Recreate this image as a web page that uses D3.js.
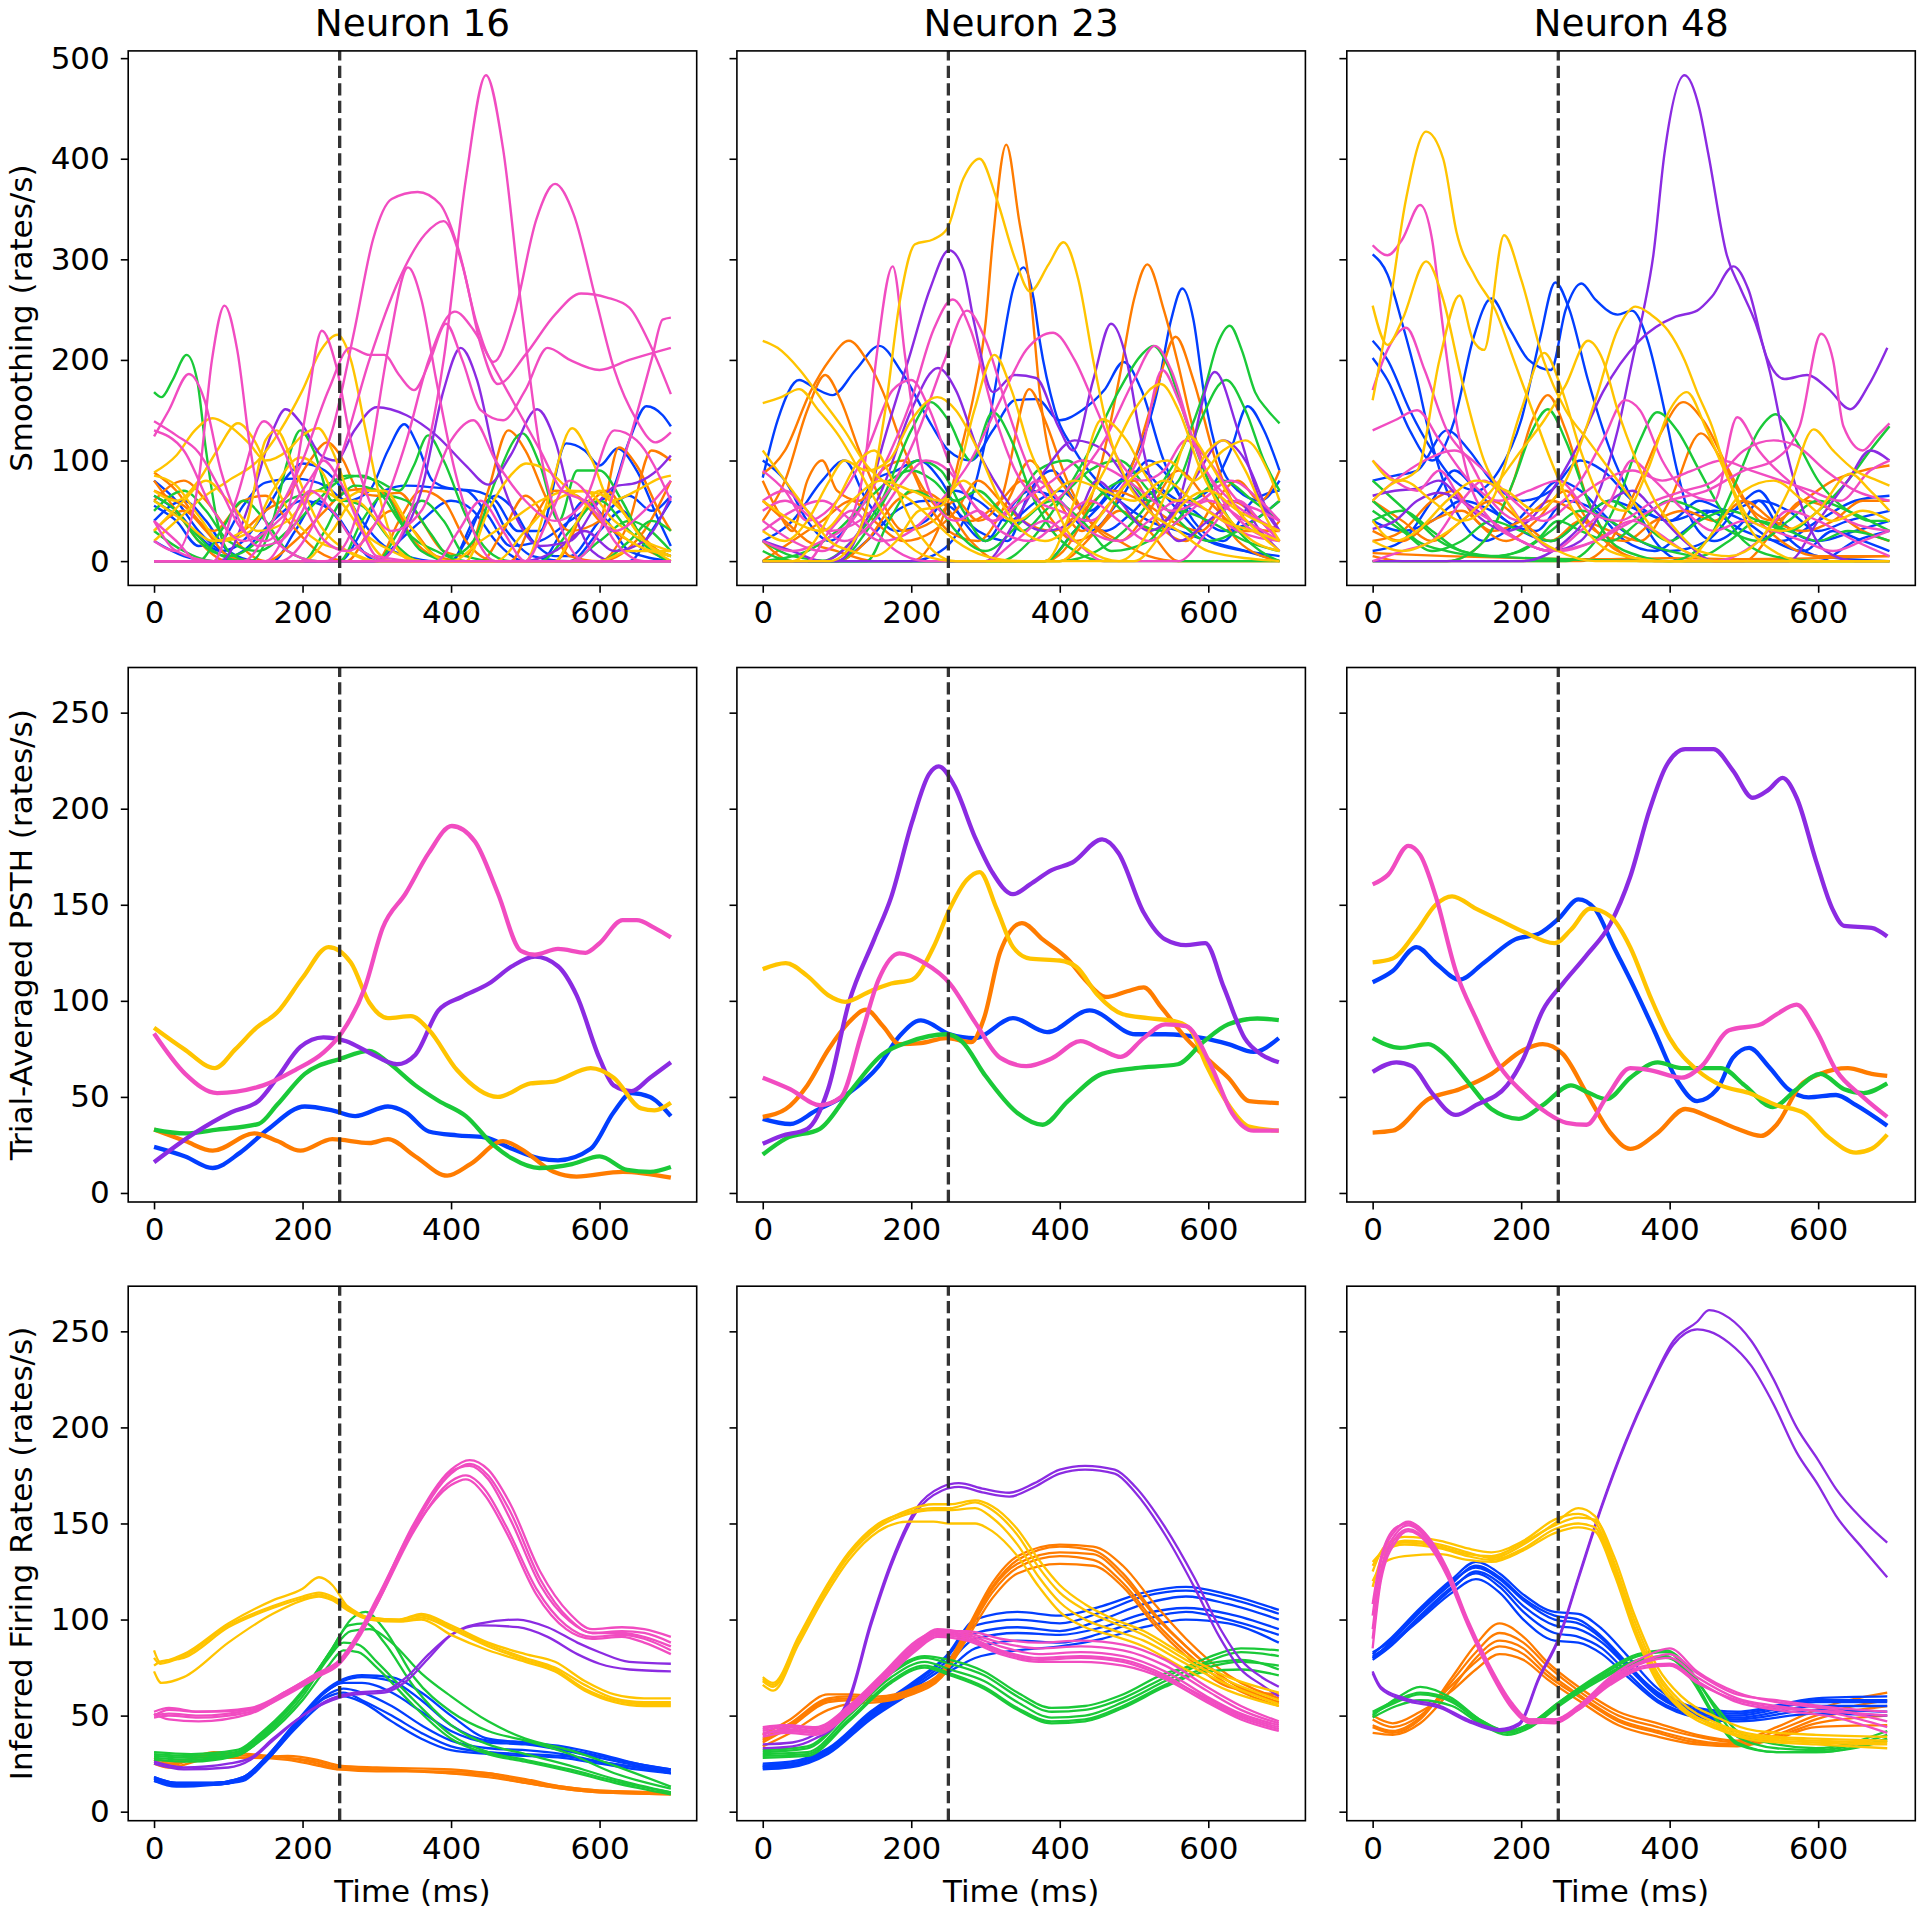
<!DOCTYPE html>
<html><head><meta charset="utf-8">
<script src="https://cdn.jsdelivr.net/npm/d3@7"></script>
<style>body{margin:0;background:#fff}svg{display:block}text{font-family:"DejaVu Sans",sans-serif}</style>
</head><body><svg id="c" width="1920" height="1913"></svg>
<script>
const neurons=["Neuron 16","Neuron 23","Neuron 48"];
const rowLabels=["Smoothing (rates/s)","Trial-Averaged PSTH (rates/s)","Inferred Firing Rates (rates/s)"];
const xLabel="Time (ms)";
const xTicks=[0,200,400,600];
const yTicksTop=[0,100,200,300,400,500];
const yTicksRate=[0,50,100,150,200,250];
const stimTime=250;
const conditions=["blue","orange","green","purple","pink","yellow"];
const palette=["#023eff","#ff7c00","#1ac938","#8b2be2","#f14cc1","#ffc400"];

// ---------- Row 1: single-trial smoothing (t, rate pairs) ----------
const smooth16=[
["blue",[0,65,30,50,60,25,90,10,120,20,150,50,180,85,200,97,230,90,255,70,280,40,310,15,340,5,380,0,696,0]],
["blue",[0,55,30,40,60,15,90,20,120,55,150,78,190,82,230,75,260,60,290,70,315,110,337,136,355,115,375,80,400,72,430,70,460,60,490,30,520,30,555,117,580,110,600,95,624,112,650,90,680,40,696,15]],
["blue",[0,0,250,0,280,30,310,70,340,75,380,73,420,70,450,45,480,15,520,20,560,40,600,60,614,66,640,120,663,154,685,145,696,134]],
["blue",[0,20,40,5,80,0,120,10,160,40,200,60,240,50,270,20,300,0,400,0,430,40,460,65,480,55,510,20,540,5,560,5,600,40,640,65,670,50,696,65]],
["blue",[0,40,40,60,70,40,100,10,140,0,400,0,420,20,450,60,475,30,510,5,560,0,600,30,630,50,660,20,696,5]],
["blue",[0,0,160,0,190,30,220,60,250,40,280,10,320,0,520,0,550,30,580,60,610,40,640,10,696,0]],
["blue",[0,80,30,60,60,30,90,10,130,0,300,0,330,20,360,40,400,60,430,50,460,20,500,0,640,0,670,30,696,60]],
["orange",[0,88,30,70,60,40,90,20,120,30,150,50,180,65,210,100,233,118,255,100,275,70,300,65,330,68,360,40,390,10,420,5,450,70,477,130,500,110,530,60,560,30,600,40,626,113,650,95,680,50,696,30]],
["orange",[0,80,30,50,60,20,100,0,150,0,190,20,230,50,260,70,290,72,320,60,350,20,400,0,480,0,510,40,540,70,570,65,600,40,640,20,696,0]],
["orange",[0,70,40,55,80,30,120,60,150,65,180,40,220,10,260,0,440,0,470,30,500,65,530,40,560,5,600,0,660,30,696,80]],
["orange",[0,30,40,50,70,30,100,5,140,0,260,0,290,30,320,50,350,30,380,5,420,0,540,0,580,50,610,70,640,40,680,10,696,5]],
["orange",[0,60,40,80,70,60,110,20,150,0,300,0,330,40,360,70,390,60,420,20,460,0,600,0,640,40,670,110,696,100]],
["green",[0,168,10,163,25,180,44,205,58,180,70,110,85,40,100,10,130,0,696,0]],
["green",[0,0,130,0,160,40,180,100,197,130,215,110,240,60,270,75,300,70,330,40,360,10,400,0,696,0]],
["green",[0,65,30,50,60,20,100,5,140,20,180,60,220,70,260,85,300,80,330,70,350,95,369,125,390,100,420,45,450,10,480,0,696,0]],
["green",[0,60,40,40,80,10,120,0,250,0,280,40,310,65,340,60,370,30,400,5,430,20,460,80,496,127,520,95,545,40,570,90,600,90,630,60,660,20,696,5]],
["green",[0,30,40,10,80,0,200,0,230,30,255,60,280,55,320,20,360,0,520,0,560,30,600,60,640,30,680,5,696,0]],
["green",[0,0,60,0,90,30,120,60,150,40,180,10,220,0,300,0,330,30,360,60,390,40,420,5,460,0,600,0,640,20,670,40,696,30]],
["green",[0,50,40,70,70,50,100,20,140,10,180,30,220,60,250,80,280,85,310,70,340,30,380,10,420,0,560,0,600,20,640,40,696,10]],
["purple",[0,0,90,0,130,60,160,130,177,151,200,135,225,105,245,100,270,130,300,153,340,145,380,125,420,95,450,76,480,105,516,151,540,120,565,50,590,10,620,0,696,0]],
["purple",[0,0,300,0,330,20,360,70,390,170,413,212,435,180,460,100,490,40,520,15,560,20,600,60,620,74,650,78,680,92,696,105]],
["purple",[0,0,500,0,540,10,580,30,620,10,660,20,696,64]],
["yellow",[0,20,30,40,60,60,100,80,140,100,170,130,200,170,225,210,247,225,265,200,285,130,305,60,325,15,350,0,696,0]],
["yellow",[0,88,30,105,55,130,79,142,100,135,128,117,150,100,180,110,200,125,221,132,240,110,265,60,290,20,320,0,420,0,450,50,480,85,501,97,530,90,560,70,600,45,640,20,696,5]],
["yellow",[0,70,30,60,60,80,85,110,113,137,135,120,160,80,190,40,220,20,260,10,300,0,500,0,530,60,563,132,590,100,615,60,650,70,680,82,696,85]],
["yellow",[0,85,30,75,60,45,90,20,130,30,160,70,197,103,225,90,250,60,280,70,310,70,340,40,370,10,400,0,440,20,480,40,520,60,560,70,594,68,630,50,660,20,696,5]],
["yellow",[0,60,40,40,80,20,120,30,150,120,165,130,190,90,220,40,260,10,300,0,600,0,640,10,696,10]],
["yellow",[0,0,200,0,240,30,270,60,300,40,330,10,360,0,540,0,570,40,600,70,630,50,660,20,696,0]],
["yellow",[0,30,40,60,70,80,100,60,140,30,180,40,220,70,250,60,280,30,320,10,360,0,460,0,500,30,540,60,580,70,620,40,660,20,696,10]],
["pink",[0,0,300,0,350,60,390,200,420,380,447,483,470,410,495,250,520,110,550,30,580,0,696,0]],
["pink",[0,130,40,110,80,50,120,20,160,35,200,70,240,130,270,230,295,320,320,360,355,367,385,355,410,310,435,235,457,198,485,245,515,340,540,375,565,345,595,260,620,190,650,140,675,118,696,128]],
["pink",[0,0,170,0,210,30,250,100,290,200,330,280,365,325,390,338,415,295,440,215,463,176,500,205,540,245,575,266,610,262,640,252,665,220,696,166]],
["pink",[0,0,230,0,260,20,290,100,315,210,342,292,360,260,380,180,405,90,430,30,460,0,560,0,600,30,640,120,670,200,685,240,696,242]],
["pink",[0,20,30,10,60,80,78,200,95,254,112,210,130,110,150,40,180,10,220,0,380,0,410,30,440,60,470,30,500,0,696,0]],
["pink",[0,124,20,150,47,186,68,160,90,90,115,40,140,15,170,20,200,50,228,100,250,80,280,30,300,5,360,0,696,0]],
["pink",[0,139,30,125,60,108,90,70,120,30,150,20,180,50,205,150,226,229,245,195,265,120,290,60,320,30,360,50,400,120,430,140,460,100,500,60,540,40,580,60,620,130,650,120,696,60]],
["pink",[0,40,30,20,60,0,120,0,160,40,200,100,235,170,264,212,290,205,310,205,330,185,350,170,372,200,393,236,415,200,440,150,470,140,500,170,530,212,560,200,600,190,640,200,696,212]],
["pink",[0,0,80,0,110,60,148,139,175,110,200,60,230,20,260,10,300,40,340,120,370,200,405,248,430,230,460,190,490,150,520,110,550,70,580,60,620,30,660,50,696,80]],
["pink",[0,40,30,10,80,0,150,0,180,30,210,70,240,50,280,10,320,0,500,0,530,40,560,80,590,60,620,20,660,0,696,0]]
];
const smooth23=[
["blue",[0,0,200,0,240,10,280,60,300,120,320,202,337,270,351,292,365,260,373,219,393,151,420,110,450,80,480,60,520,40,560,30,600,20,650,10,696,0]],
["blue",[0,83,20,140,49,180,70,172,94,165,125,190,157,214,187,188,226,137,250,110,280,100,310,130,340,160,369,161,400,140,430,150,460,170,486,198,510,170,540,100,570,60,600,70,630,110,653,154,675,130,696,90]],
["blue",[0,0,380,0,420,30,460,60,500,100,531,168,550,240,565,271,580,240,594,168,615,100,640,70,670,60,696,80]],
["blue",[0,100,30,80,60,40,90,20,120,40,150,80,180,90,210,100,240,80,270,40,300,20,330,50,360,70,400,60,440,30,480,60,520,100,550,80,580,40,620,20,660,60,696,70]],
["blue",[0,0,100,0,140,20,180,50,220,60,250,55,290,30,330,20,360,70,390,90,420,60,460,30,500,50,530,70,560,50,600,20,650,10,696,5]],
["blue",[0,20,40,40,80,80,110,100,140,60,180,30,220,40,260,70,290,60,330,40,370,60,400,70,440,50,480,80,510,90,540,70,580,50,620,30,660,40,696,60]],
["orange",[0,0,200,0,250,60,270,120,285,168,300,236,310,320,328,414,345,340,360,270,373,168,388,100,410,70,440,40,480,20,520,5,560,0,696,0]],
["orange",[0,60,30,40,60,20,100,10,150,0,380,0,430,40,457,100,481,185,500,260,518,295,540,250,558,200,580,130,610,60,640,20,696,0]],
["orange",[0,87,30,110,64,168,90,200,116,219,140,200,162,168,187,117,210,80,240,50,280,40,320,60,350,80,380,50,420,20,460,40,500,100,530,170,556,223,580,180,610,100,640,50,680,30,696,40]],
["orange",[0,40,30,80,60,150,84,185,105,160,130,110,160,60,190,30,230,40,260,60,290,40,320,60,359,171,380,140,410,80,440,40,480,20,520,50,560,90,600,60,650,30,696,30]],
["orange",[0,80,20,50,40,30,60,80,80,100,100,70,130,60,160,90,190,100,220,60,250,30,290,20,330,60,360,100,390,70,430,30,470,60,500,80,530,40,570,20,610,60,640,80,670,60,696,90]],
["orange",[0,20,40,0,100,0,140,20,180,60,210,70,240,60,280,20,320,0,400,0,450,30,480,50,520,30,560,0,696,0]],
["orange",[0,0,40,20,80,40,120,60,150,40,190,20,230,30,260,50,290,80,320,60,350,40,390,30,430,50,470,70,510,60,550,40,590,30,630,60,670,40,696,20]],
["green",[0,0,400,0,450,10,500,40,540,80,570,120,594,168,612,215,629,234,645,210,663,168,680,150,696,137]],
["green",[0,0,320,0,360,20,400,60,440,110,480,170,510,205,526,214,545,195,570,140,600,80,630,40,670,10,696,0]],
["green",[0,20,40,5,100,0,380,0,420,30,460,70,490,80,520,60,560,80,590,140,624,180,650,150,675,100,696,70]],
["green",[0,0,80,0,120,20,160,60,200,130,226,158,250,140,280,100,310,148,335,120,360,70,390,30,420,10,460,0,696,0]],
["green",[0,10,40,0,100,0,140,30,180,80,210,100,240,90,270,50,300,20,330,40,370,90,410,100,440,80,470,60,500,40,540,30,580,60,620,80,660,60,696,40]],
["green",[0,0,140,0,170,40,200,70,230,60,260,30,300,10,350,40,390,60,430,40,470,10,520,20,560,50,600,40,650,20,696,10]],
["green",[0,0,60,10,100,30,140,60,170,80,200,90,230,80,260,60,290,70,320,50,350,30,380,50,410,70,440,90,480,100,520,70,560,40,600,20,640,30,680,50,696,60]],
["purple",[0,0,100,0,130,30,162,117,197,202,225,270,251,309,270,290,285,236,310,168,339,185,368,182,398,134,418,110,445,180,469,236,490,200,506,134,530,60,560,20,600,40,640,60,670,30,696,10]],
["purple",[0,20,40,10,80,0,120,20,160,70,200,150,236,192,260,170,290,110,320,70,350,40,380,30,420,40,450,80,480,60,520,30,560,60,609,188,640,130,670,60,696,30]],
["purple",[0,0,300,0,340,40,380,90,420,120,460,110,500,70,540,40,580,80,620,120,650,100,680,50,696,30]],
["pink",[0,40,40,20,80,10,110,30,138,100,153,202,175,293,192,202,210,110,230,60,260,40,290,50,320,30,360,20,400,40,440,60,480,40,520,20,560,40,600,60,650,40,696,20]],
["pink",[0,20,40,10,80,20,120,40,160,90,200,160,230,230,256,260,280,230,310,150,340,90,370,60,400,50,440,40,480,70,510,110,538,190,560,160,590,100,630,60,670,40,696,30]],
["pink",[0,60,30,70,60,50,90,30,130,40,170,70,210,130,245,200,275,249,300,220,330,150,360,90,390,60,420,80,460,120,500,180,528,214,550,190,580,120,620,60,660,30,696,20]],
["pink",[0,30,40,50,80,60,120,40,160,20,200,30,240,60,280,100,320,160,355,210,391,227,420,200,450,150,480,100,510,80,540,90,570,120,600,100,640,60,670,50,696,40]],
["pink",[0,90,30,70,60,40,100,60,140,110,175,170,200,180,225,150,250,100,280,60,310,40,340,60,370,80,400,60,440,30,480,20,520,40,560,60,600,50,640,30,696,20]],
["pink",[0,0,60,0,90,30,120,50,150,30,180,10,220,0,300,0,340,20,380,40,420,20,460,0,560,0,600,30,640,60,670,40,696,20]],
["pink",[0,50,30,60,70,40,110,20,150,40,190,80,220,100,250,90,280,60,310,40,350,60,390,80,430,100,470,90,510,70,550,50,590,60,630,80,670,60,696,40]],
["yellow",[0,0,90,0,130,30,165,150,185,260,205,315,230,320,248,330,270,380,292,400,315,360,340,300,360,268,385,295,405,317,425,280,445,200,465,130,490,80,520,50,560,30,600,10,696,0]],
["yellow",[0,219,20,212,50,190,80,160,110,130,140,95,170,75,200,60,230,40,260,20,300,5,350,0,500,0,540,30,570,60,600,70,640,50,696,30]],
["yellow",[0,157,25,163,49,171,75,150,103,124,130,90,160,50,190,20,220,5,260,0,380,0,420,60,457,141,490,120,520,80,560,60,600,110,620,120,650,90,680,40,696,20]],
["yellow",[0,110,30,80,60,50,90,20,120,10,150,5,180,20,210,50,240,55,260,80,285,150,312,205,335,170,360,110,385,70,410,30,440,10,480,0,520,30,550,80,575,124,600,100,640,50,680,20,696,10]],
["yellow",[0,30,30,20,60,40,90,80,110,100,140,90,170,100,200,140,235,163,260,150,290,110,320,60,350,30,380,20,420,40,460,90,500,150,536,176,560,150,590,90,620,50,660,20,696,10]],
["yellow",[0,0,40,0,70,20,100,60,130,100,150,110,175,80,200,40,230,10,260,0,400,0,430,20,470,60,510,90,545,100,580,80,620,110,650,120,680,90,696,60]],
["yellow",[0,60,40,40,80,30,120,60,160,80,200,70,240,60,270,80,300,60,340,40,380,60,420,80,460,70,500,60,540,80,580,60,620,40,660,30,696,20]]
];
const smooth48=[
["blue",[0,305,20,285,40,236,60,180,74,134,95,80,120,40,150,20,180,30,220,60,250,80,280,70,320,40,360,20,400,10,450,20,500,60,520,70,550,40,600,20,650,30,696,40]],
["blue",[0,219,20,200,50,150,80,110,110,80,140,70,170,90,200,140,225,220,246,277,265,250,290,180,320,110,350,60,380,20,420,0,600,0,650,20,696,30]],
["blue",[0,202,20,180,50,130,80,100,110,140,135,220,160,261,185,230,210,200,240,190,260,250,281,276,300,260,330,245,349,249,370,220,390,160,410,90,430,40,460,20,500,40,520,60,550,30,600,5,696,0]],
["blue",[0,80,30,85,60,90,100,130,130,110,160,80,200,60,240,70,280,100,310,90,350,60,400,40,450,50,500,30,550,20,600,40,650,60,696,65]],
["blue",[0,10,40,20,80,60,110,90,140,70,180,40,220,30,260,60,300,50,340,20,380,10,420,30,460,50,500,40,540,20,580,10,620,30,660,20,696,10]],
["blue",[0,40,40,30,80,40,120,60,160,50,200,30,240,20,280,40,320,60,360,50,400,40,440,60,480,50,520,60,560,50,600,30,640,40,696,50]],
["orange",[0,5,40,0,100,0,150,20,190,80,215,140,236,165,260,130,290,60,320,20,360,0,400,0,696,0]],
["orange",[0,0,280,0,320,20,360,80,390,130,418,158,445,140,480,90,510,50,550,20,600,5,696,5]],
["orange",[0,60,40,40,80,20,120,40,160,60,200,40,240,20,280,40,320,30,360,20,400,60,442,127,470,100,500,60,540,40,580,60,620,80,660,90,696,95]],
["orange",[0,20,40,30,80,60,110,70,140,40,180,20,220,40,260,70,290,40,330,10,380,0,500,0,540,30,580,60,620,50,660,30,696,20]],
["orange",[0,8,100,5,200,3,300,2,400,3,500,2,600,3,696,5]],
["orange",[0,30,40,20,80,40,120,50,160,30,200,40,240,60,270,50,300,30,340,20,380,40,420,50,460,40,500,60,540,40,580,30,620,40,660,60,696,60]],
["green",[0,0,100,0,150,20,190,80,215,130,236,151,260,120,290,60,320,20,360,5,400,0,696,0]],
["green",[0,0,260,0,300,20,330,60,360,120,383,148,410,130,440,90,470,50,500,20,540,5,600,0,696,0]],
["green",[0,60,30,40,60,20,100,10,150,5,400,0,450,20,490,80,520,130,543,146,570,120,600,80,640,50,670,40,696,40]],
["green",[0,50,40,30,80,10,120,20,160,40,200,30,240,20,280,40,320,60,360,40,400,20,440,40,480,50,520,40,560,30,600,50,640,80,670,110,696,134]],
["green",[0,80,30,60,60,40,90,20,120,10,160,5,200,10,240,30,280,50,320,40,360,20,400,10,440,5,480,20,520,40,560,30,600,20,640,30,696,20]],
["green",[0,40,40,50,80,30,120,10,170,5,220,20,250,40,280,30,320,20,360,40,400,60,440,50,480,30,520,20,560,40,600,60,640,50,696,30]],
["purple",[0,0,200,0,260,20,300,60,330,130,350,200,365,250,378,304,393,405,420,483,440,450,452,405,477,304,496,270,516,236,535,188,555,117,580,50,610,10,650,0,696,0]],
["purple",[0,65,30,70,60,72,89,80,120,60,150,40,180,30,210,40,250,80,280,120,310,168,359,219,408,243,437,249,457,263,486,293,506,270,531,202,555,181,585,185,614,171,643,151,668,175,693,212]],
["purple",[0,32,30,40,60,60,90,68,120,60,160,40,200,20,240,10,280,20,320,60,350,70,380,50,420,20,460,0,560,0,600,40,640,80,670,110,696,100]],
["pink",[0,314,20,304,40,320,64,354,80,320,94,236,110,150,130,80,160,40,200,20,240,10,280,30,320,60,349,100,380,80,420,50,460,30,500,40,540,30,580,20,620,10,660,20,696,30]],
["pink",[0,170,20,210,45,232,70,190,100,130,130,100,160,60,200,40,240,50,280,80,310,120,340,160,360,150,390,100,420,70,460,60,491,143,520,110,560,80,600,60,640,40,696,30]],
["pink",[0,100,30,80,60,70,90,90,120,60,160,40,200,20,240,10,300,20,350,40,400,60,450,70,500,90,540,100,575,134,604,226,620,200,634,134,660,110,680,125,696,137]],
["pink",[0,130,30,140,60,150,90,120,130,80,170,60,210,70,250,80,290,50,330,40,380,60,420,70,460,80,500,110,540,120,570,115,610,90,650,70,696,60]],
["pink",[0,0,40,10,80,20,120,60,150,80,180,60,210,30,250,10,300,20,350,40,380,30,420,10,460,0,520,20,560,50,600,40,650,20,696,5]],
["pink",[0,60,30,80,70,100,110,110,150,90,190,60,230,40,270,60,310,80,350,90,390,80,430,90,470,100,510,90,550,80,590,70,630,60,670,90,696,100]],
["yellow",[0,160,20,240,45,360,72,427,95,400,113,327,138,283,165,250,190,200,215,150,240,100,270,50,300,20,340,5,400,0,696,0]],
["yellow",[0,254,20,215,40,240,72,298,95,260,120,180,150,100,180,60,210,30,250,10,300,0,420,0,460,30,500,70,540,80,580,60,620,40,660,50,696,40]],
["yellow",[0,100,30,80,60,90,90,200,117,264,135,220,150,210,177,324,200,280,230,200,260,150,290,120,320,90,350,60,380,30,420,10,460,0,696,0]],
["yellow",[0,40,30,20,60,30,100,60,140,80,180,70,220,50,260,80,300,160,330,230,354,253,375,245,398,229,420,200,437,168,457,134,480,80,510,30,540,10,580,0,696,0]],
["yellow",[0,20,40,10,80,20,120,40,160,70,200,110,231,140,260,175,290,219,310,200,330,150,355,100,380,60,410,30,440,10,480,5,520,20,560,70,594,131,620,110,650,90,680,80,696,75]],
["yellow",[0,60,40,80,80,60,120,40,160,60,200,150,231,207,255,170,280,110,310,60,340,50,370,90,400,150,423,168,450,130,480,80,510,40,550,30,600,50,643,87,670,70,696,50]]
];

// ---------- Row 2: trial-averaged PSTH ----------
const psth16=[
["blue",[0,24,42,19,79,13,116,21,153,33,203,45,240,43,271,40,315,45,339,42,370,32,408,30,445,29,482,23,519,18,544,17,588,23,619,42,643,52,668,50,696,40]],
["orange",[0,33,42,27,79,22,135,31,166,27,197,22,240,28,290,26,315,28,352,19,395,9,426,15,470,27,494,23,538,11,569,8.5,631,11,696,8]],
["green",[0,33,42,31,85,33,141,36,166,46,203,62,252,70,290,74,315,68,352,56,383,48,420,40,457,25,482,18,519,13,563,15,600,19,637,12,668,11,696,13.5]],
["purple",[0,16,54,31,104,42,141,48,166,60,197,76,228,81,259,79,290,73,327,67,352,72,383,95,414,102,451,109,482,118,513,123,544,118,569,103,600,70,619,56,643,53,668,60,696,68]],
["yellow",[0,86,40,75,82,65,110,75,138,86,166,94,200,112,235,128,265,120,290,99,315,91,346,92,370,85,408,64,463,50,507,57,538,58,588,65,619,60,656,44,674,43,696,47]],
["pink",[0,83,42,62,85,52,147,56,190,64,228,73,252,83,284,107,308,138,339,156,370,177,401,191,432,183,463,156,494,126,513,124,544,127,581,125,600,130,631,142,650,142,674,138,696,133]]
];
const psth23=[
["blue",[0,38.6,37,35.9,71,42.7,116,52,156,66,184,81.6,213,89.8,252,82.6,286,80.6,337,91,383,83.7,440,95,502,82.6,542,82.6,593,80.6,627,77.5,661,73.4,695,80.6]],
["orange",[0,39.6,31,43.7,60,56,88,74.4,116,88.8,139,95.4,162,86.8,184,77.5,213,78,247,80.6,281,78.5,298,91,320,125.7,349,140.5,377,132,411,121.6,434,111,462,102,491,105,513,107,536,97,570,80.6,604,68,627,60,655,47.8,695,46.8]],
["green",[0,20,31,28.3,77,33.4,116,52,162,72.4,196,78.5,247,82.6,269,78.5,298,62,343,41.6,377,35.5,411,47.8,457,62,502,65,559,67,593,78.5,627,87.8,666,90.8,695,90]],
["purple",[0,25.6,25,29.7,60,33.4,88,54,116,99,150,132,173,154,201,193,224,218,237,222,258,212,286,185,309,167,337,155.5,360,160.6,389,168,417,172,457,184,479,177,513,146,542,132,570,129,596,130,621,107,649,80.6,672,72,695,68]],
["yellow",[0,116.5,31,119.6,60,113,88,103,111,99.5,145,105,173,109,201,111,230,128,252,148,275,163,292,167,315,148,337,128,360,122,400,121,423,117.5,451,103,485,93,519,91,559,89,576,85,598,66,627,46,655,34.5,695,32.4]],
["pink",[0,60,37,54,77,45.7,105,49.8,133,82.6,156,111,184,124.7,218,119.6,252,109,286,88.8,320,70.3,355,66,389,70,428,79,457,74.4,482,70.8,513,80.6,542,87.8,570,86.8,604,66,632,41.6,661,32.4,695,32.4]]
];
const psth48=[
["blue",[0,109.7,27,115.5,59,128,85,119.6,117,111,149,119.6,192,132,224,135,251,143,277,152.8,299,148,325,127.8,352,107,379,84.7,411,58,437,47.8,464,54,485,70.3,507,75.5,533,66,560,54,587,49.8,624,51,651,45.7,693,35]],
["orange",[0,31.4,27,32.4,75,48.8,117,54,160,62,203,74.4,229,77.5,256,72.4,288,52,320,31.4,347,23,384,31.4,421,43.7,459,38.6,491,33.4,523,29.7,544,35.5,576,56,603,62,640,65,672,62,693,61]],
["green",[0,80.6,37,75.5,75,77.5,96,72.4,128,58,160,43.7,197,38.6,229,45.7,267,56,288,52.7,315,48.8,347,60,384,68,416,65,469,65,501,56,539,44.7,571,54,603,62,635,54,661,52,693,57]],
["purple",[0,63,32,68,53,66,80,52,112,40.6,139,45.7,181,56,203,70,229,95,256,109,288,123.7,320,140,347,164.7,373,199.5,395,222,421,231,459,231,485,220,512,205.7,533,209.8,552,216,571,205.7,597,173,619,148,635,139,672,138,693,133.5]],
["yellow",[0,120,27,122,59,136,85,150,107,154.4,139,148,171,142,203,136,245,130,267,137,293,148,320,144,347,127.8,373,103,400,80.6,437,64,469,56,507,52,544,45.7,581,41.6,613,29.3,651,21,672,23,693,30.4]],
["pink",[0,160.6,21,165.7,48,180.7,64,176,85,154.4,112,115.5,139,91,171,66,203,52,235,41.6,261,36.5,288,35.5,315,49.8,347,65,373,64,416,60,443,66,480,84.7,523,87.8,544,93,571,98,597,84.7,624,64,661,49.8,693,39.6]]
];

// ---------- Row 3: inferred firing rates (several trials per condition) ----------
const rates16=[
["orange",[0,27,20,24,80,31,130,30,180,28,220,26,250,23,300,22,400,20,450,19,500,15,550,12,600,10,696,9]],
["orange",[0,26,20,25,80,30,130,29,180,28,220,25,250,22,300,21,400,21,450,20,500,16,550,13,600,11,696,10]],
["orange",[0,28,20,26,80,29,130,28,180,29,220,27,250,24,300,23,400,22,450,20,500,17,550,13,600,11,696,10]],
["orange",[0,25,20,23,80,28,130,28,180,27,220,24,250,22,300,22,400,20,450,18,500,15,550,12,600,10,696,9]],
["blue",[0,18,30,15,80,15,120,18,150,28,190,46,230,62,255,68,280,70,320,68,360,58,400,45,450,37,500,36,550,33,600,29,650,25,696,22]],
["blue",[0,17,30,14,80,14,120,17,150,27,190,45,230,62,255,67,280,67,320,62,360,52,400,42,450,36,500,35,550,32,600,28,650,24,696,21]],
["blue",[0,16,30,14,80,14,120,17,150,26,190,44,230,60,255,64,280,62,320,55,360,45,400,37,450,33,500,32,550,30,600,26,650,23,696,20]],
["blue",[0,17,30,15,80,15,120,17,150,27,190,45,230,59,255,62,280,58,320,50,360,41,400,34,450,31,500,30,550,29,600,26,650,23,696,20]],
["blue",[0,18,30,15,80,15,120,18,150,28,190,46,230,63,255,69,280,71,320,70,360,62,400,50,450,38,500,36,550,34,600,30,650,25,696,22]],
["blue",[0,16,30,13,80,14,120,16,150,26,190,43,230,57,255,60,280,57,320,47,360,38,400,32,450,30,500,29,550,28,600,25,650,22,696,20]],
["green",[0,30,50,29,110,31,150,42,200,62,240,85,265,100,285,104,310,95,350,70,400,52,450,42,500,37,560,30,620,20,696,12]],
["green",[0,29,50,28,110,30,150,41,200,62,240,85,262,97,285,98,310,88,350,65,400,45,450,35,500,30,560,24,620,17,696,10]],
["green",[0,28,50,27,110,29,150,40,200,60,235,80,255,88,275,87,300,78,350,58,400,40,450,31,500,27,560,22,620,16,696,10]],
["green",[0,27,50,26,110,29,150,39,200,58,235,76,255,84,275,83,300,75,350,55,400,38,450,30,500,26,560,21,620,15,696,9]],
["green",[0,31,50,30,110,32,150,43,200,63,240,84,265,94,290,95,320,88,360,72,400,60,450,47,500,38,560,32,620,24,696,13]],
["purple",[0,26,40,23,100,25,130,28,160,38,200,50,240,58,270,61,310,62,340,68,370,80,400,92,440,98,490,100,530,96,570,88,600,83,640,78,696,77]],
["purple",[0,25,40,22,100,23,130,27,160,37,200,50,240,59,270,62,310,63,340,70,370,82,400,92,440,97,490,96,530,91,570,82,600,77,640,74,696,73]],
["yellow",[0,84,8,78,40,82,100,98,160,110,200,116,222,122,240,118,260,107,290,101,330,100,360,103,400,97,450,88,500,82,540,78,580,68,620,61,660,59,696,59]],
["yellow",[0,80,8,77,40,81,100,97,160,107,200,112,222,114,240,112,260,107,290,101,330,100,360,102,400,96,450,87,500,80,540,75,580,66,620,59,660,57,696,57]],
["yellow",[0,76,8,78,40,80,100,96,160,106,200,111,222,113,240,111,260,106,290,100,330,99,360,101,400,95,450,86,500,79,540,74,580,64,620,58,660,56,696,56]],
["yellow",[0,73,10,67,40,70,100,88,160,103,200,110,222,112,240,110,260,105,290,100,330,99,360,100,400,92,450,84,500,78,540,73,580,63,620,57,660,55,696,55]],
["pink",[0,50,20,53,60,52,130,54,180,63,220,72,250,78,275,92,300,110,350,150,400,178,425,183,450,178,480,160,520,125,560,103,590,95,630,96,660,95,696,91]],
["pink",[0,52,20,54,60,52,130,53,180,62,220,71,250,77,275,90,300,108,350,148,400,176,425,181,450,175,480,156,520,121,560,100,590,93,630,94,660,93,696,88]],
["pink",[0,49,20,50,60,49,130,52,180,61,220,70,250,77,275,91,300,108,350,146,400,172,420,175,445,168,475,148,515,116,555,97,590,91,630,92,660,90,696,84]],
["pink",[0,51,20,48,60,47,130,51,180,62,220,71,250,78,275,92,300,110,350,147,400,170,420,173,445,165,475,145,515,113,555,95,590,90,630,91,660,88,696,82]],
["pink",[0,50,20,51,60,50,130,53,180,63,220,72,250,79,275,93,300,111,350,149,400,177,425,180,450,173,480,152,520,118,560,99,590,93,630,93,660,91,696,86]]
];
const rates23=[
["blue",[0,25,37,26,88,33,145,52,201,67,247,81,286,100,343,104,400,102,457,107,513,114,570,117,627,113,695,105]],
["blue",[0,24,37,25,88,32,145,51,201,66,247,80,286,97,343,100,400,98,457,104,513,112,570,115,627,111,695,103]],
["blue",[0,23,37,24,88,31,145,50,201,65,247,78,286,93,343,96,400,94,457,100,513,108,570,112,627,108,695,100]],
["blue",[0,24,37,25,88,32,145,50,201,64,247,76,286,90,343,93,400,92,457,96,513,103,570,106,627,103,695,95]],
["blue",[0,22,37,23,88,30,145,48,201,62,247,73,286,85,343,89,400,88,457,93,513,100,570,104,627,100,695,92]],
["blue",[0,23,37,24,88,31,145,49,201,63,247,72,286,80,343,84,400,86,457,90,513,96,570,100,627,98,695,88]],
["orange",[0,38,37,46,88,59,116,60,156,59,201,63,241,72,275,94,309,117,343,131,400,138,445,136,485,124,530,102,570,86,627,68,695,57]],
["orange",[0,36,37,44,88,57,116,58,156,58,201,62,241,71,275,92,309,114,343,127,400,133,445,131,485,119,530,98,570,83,627,66,695,55]],
["orange",[0,40,37,48,88,61,116,61,156,60,201,64,241,73,275,95,309,119,343,133,400,139,445,138,485,128,530,107,570,90,627,71,695,59]],
["orange",[0,34,37,41,88,53,116,56,156,57,201,61,241,70,275,90,309,111,343,124,400,129,445,128,485,117,530,96,570,81,627,65,695,61]],
["orange",[0,37,37,45,88,58,116,59,156,58,201,62,241,72,275,93,309,116,343,129,400,135,445,134,485,122,530,101,570,86,627,68,695,57]],
["green",[0,30,60,31,116,50,173,70,218,78,252,74,298,68,343,57,389,49,434,50,485,57,542,68,598,78,644,83,695,81]],
["green",[0,31,60,33,116,52,173,72,218,80,252,77,298,71,343,60,389,52,434,53,485,59,542,70,598,80,644,85,695,84]],
["green",[0,29,60,30,116,48,173,68,218,76,252,72,298,65,343,54,389,47,434,48,485,55,542,66,598,75,644,78,695,76]],
["green",[0,32,60,34,116,53,173,73,218,81,252,79,298,73,343,62,389,54,434,55,485,61,542,72,598,77,644,79,695,74]],
["green",[0,28,60,29,116,47,173,67,218,75,252,71,298,64,343,53,389,46,434,47,485,54,542,65,598,73,644,74,695,71]],
["purple",[0,35,40,36,70,40,100,48,116,59,145,98,173,130,207,158,241,169,264,171,298,168,332,166,366,171,400,178,434,180,474,178,502,169,542,148,581,122,615,96,644,79,672,70,695,65]],
["purple",[0,33,40,34,70,38,100,46,116,57,145,96,173,128,207,156,241,167,264,169,298,166,332,164,366,169,400,176,434,178,474,176,502,166,542,144,581,117,615,91,644,74,672,66,695,60]],
["yellow",[0,70,14,67,48,91,82,115,116,135,156,150,196,156,230,158,252,158,286,161,309,157,343,144,372,127,400,114,434,105,468,99,513,92,570,79,627,68,695,58]],
["yellow",[0,68,14,65,48,89,82,113,116,133,156,148,196,155,230,157,252,157,286,158,309,153,343,139,372,122,400,109,434,100,468,95,513,89,570,77,627,66,695,56]],
["yellow",[0,69,14,66,48,90,82,114,116,134,156,149,196,157,230,160,252,160,286,162,309,159,343,147,372,131,400,118,434,108,468,101,513,94,570,81,627,70,695,62]],
["yellow",[0,66,14,63,48,87,82,111,116,131,156,146,196,151,230,151,252,150,286,150,309,146,343,133,372,117,400,104,434,96,468,92,513,86,570,74,627,63,695,55]],
["pink",[0,42,31,44,71,42,116,53,162,70,207,87,235,94,275,92,320,86,372,82,428,83,485,81,542,73,598,60,644,51,695,45]],
["pink",[0,40,31,43,71,41,116,52,162,69,207,86,235,93,275,91,320,84,372,80,428,81,485,79,542,71,598,58,644,49,695,43]],
["pink",[0,44,31,45,71,43,116,54,162,71,207,88,235,95,275,93,320,88,372,85,428,86,485,84,542,76,598,63,644,53,695,46]],
["pink",[0,39,31,41,71,40,116,51,162,68,207,84,235,91,275,89,320,82,372,78,428,78,485,76,542,69,598,57,644,48,695,42]],
["pink",[0,43,31,45,71,44,116,55,162,72,207,89,235,94,275,94,320,90,372,88,428,89,485,87,542,79,598,65,644,55,695,47]],
["pink",[0,41,31,42,71,41,116,52,162,69,207,85,235,92,275,90,320,83,372,79,428,80,485,78,542,70,598,59,644,50,695,44]]
];
const rates48=[
["orange",[0,44,27,41,64,48,107,70,139,87,171,98,203,91,235,78,277,65,331,52,384,46,437,40,491,37,544,44,597,53,693,62]],
["orange",[0,45,27,42,64,49,107,68,139,83,171,93,203,88,235,76,277,63,331,50,384,44,437,39,491,36,544,42,597,50,693,58]],
["orange",[0,41,27,40,64,46,107,64,139,80,171,89,203,85,235,73,277,61,331,48,384,42,437,37,491,35,544,40,597,48,693,55]],
["orange",[0,48,27,44,64,50,107,66,139,78,171,86,203,82,235,71,277,60,331,47,384,41,437,36,491,35,544,39,597,46,693,50]],
["orange",[0,50,27,46,64,52,107,63,139,74,171,82,203,79,235,69,277,58,331,45,384,39,437,35,491,34,544,38,597,44,693,45]],
["blue",[0,80,21,87,64,104,107,119,139,128,171,122,203,111,245,102,277,100,309,91,341,78,384,61,437,52,491,50,597,57,693,57]],
["blue",[0,82,21,89,64,106,107,121,139,130,171,124,203,113,245,104,277,103,309,95,341,82,384,64,437,54,491,52,597,59,693,60]],
["blue",[0,79,21,85,64,101,107,116,139,125,171,119,203,107,245,97,277,95,309,88,341,76,384,60,437,51,491,49,597,55,693,55]],
["blue",[0,81,21,86,64,102,107,117,139,124,171,117,203,104,245,93,277,91,309,85,341,73,384,58,437,50,491,48,597,53,693,52]],
["blue",[0,80,21,86,64,100,107,114,139,121,171,114,203,100,245,89,277,88,309,82,341,71,384,57,437,49,491,47,597,51,693,50]],
["blue",[0,83,21,88,64,105,107,120,139,127,171,121,203,110,245,100,277,98,309,90,341,77,384,62,437,53,491,51,597,58,693,58]],
["green",[0,50,32,59,64,65,107,59,144,48,181,42,213,46,251,57,304,70,357,81,395,83,427,72,464,48,491,36,544,31,597,31,693,37]],
["green",[0,51,32,57,64,61,107,57,144,47,181,41,213,45,251,56,304,69,357,79,395,81,427,70,464,47,491,35,544,31,597,31,693,38]],
["green",[0,49,32,55,64,58,107,55,144,46,181,40,213,44,251,55,304,68,357,78,395,80,427,72,464,54,491,42,544,35,597,33,693,42]],
["green",[0,52,32,58,64,62,107,58,144,48,181,42,213,46,251,57,304,71,357,82,395,84,427,74,464,52,491,39,544,33,597,32,693,40]],
["purple",[0,73,11,65,43,59,91,55,128,48,171,43,197,46,224,70,251,91,277,122,309,160,341,193,373,221,405,245,437,255,453,261,480,257,510,245,540,225,571,200,600,183,624,168,660,152,693,140]],
["purple",[0,72,11,64,43,58,91,54,128,47,171,42,197,45,224,69,251,90,277,121,309,159,341,192,373,220,405,243,437,251,453,250,480,244,510,232,540,212,571,187,600,170,624,154,660,137,693,122]],
["yellow",[0,117,16,135,43,141,91,139,128,135,160,132,203,139,245,150,277,158,299,154,325,130,352,100,384,72,416,57,464,46,517,40,597,38,693,37]],
["yellow",[0,125,16,138,43,143,91,141,128,137,160,135,203,141,245,152,277,155,299,151,325,128,352,97,384,70,416,55,464,44,517,38,597,36,693,35]],
["yellow",[0,130,16,136,43,139,91,137,128,133,160,131,203,137,245,147,277,150,299,148,325,126,352,96,384,68,416,54,464,45,517,39,597,37,693,36]],
["yellow",[0,120,16,130,43,133,91,134,128,131,160,130,203,136,245,145,277,148,299,146,325,124,352,94,384,67,416,53,464,43,517,37,597,35,693,33]],
["yellow",[0,128,16,137,43,140,91,138,128,134,160,133,203,140,245,149,277,153,299,152,325,133,352,103,384,75,416,60,464,49,517,42,597,40,693,39]],
["pink",[0,102,11,130,32,147,48,151,75,143,101,126,128,100,155,78,187,57,213,48,245,48,277,55,320,70,368,81,400,85,437,73,491,62,544,57,624,53,693,47]],
["pink",[0,95,11,125,32,145,48,149,75,141,101,124,128,98,155,76,187,55,213,47,245,47,277,54,320,68,368,78,400,80,437,70,491,59,544,55,624,51,693,44]],
["pink",[0,85,11,120,32,141,48,146,75,139,101,122,128,97,155,75,187,54,213,46,245,47,277,53,320,67,368,76,400,77,437,68,491,57,544,53,624,49,693,41]],
["pink",[0,108,11,132,32,148,48,150,75,142,101,125,128,99,155,77,187,56,213,48,245,48,277,54,320,69,368,79,400,82,437,72,491,61,544,58,624,54,693,52]],
["pink",[0,90,11,122,32,143,48,147,75,140,101,123,128,98,155,76,187,55,213,47,245,46,277,53,320,66,368,75,400,76,437,67,491,58,544,54,624,52,693,50]]
];

// ---------- drawing ----------
const svg=d3.select("#c");
const W=568.5,H=534.5;
const colLeft=[128.2,736.9,1346.8];
const rowTop=[50.9,667.5,1286.2];
const xDomain=[-34.8,730.8];
const yDomains=[[-24.15,507.2],[-4.7,273.5],[-4.7,273.5]];
const lineW=[2.4,4.3,2.3];
const panels=[[smooth16,smooth23,smooth48],[psth16,psth23,psth48],[rates16,rates23,rates48]];
const yTickSets=[yTicksTop,yTicksRate,yTicksRate];
const FS=31;
let cid=0;
panels.forEach((row,r)=>row.forEach((series,c)=>{
  const x0=colLeft[c],y0=rowTop[r];
  const x=d3.scaleLinear().domain(xDomain).range([x0,x0+W]);
  const y=d3.scaleLinear().domain(yDomains[r]).range([y0+H,y0]);
  const id="clip"+(cid++);
  svg.append("clipPath").attr("id",id).append("rect").attr("x",x0).attr("y",y0).attr("width",W).attr("height",H);
  const g=svg.append("g").attr("clip-path",`url(#${id})`);
  const line=d3.line().x(d=>x(d[0])).y(d=>y(d[1])).curve(d3.curveMonotoneX);
  series.forEach(([cond,flat])=>{
    const pts=[];for(let i=0;i<flat.length;i+=2)pts.push([flat[i],flat[i+1]]);
    g.append("path").attr("d",line(pts)).attr("fill","none")
     .attr("stroke",palette[conditions.indexOf(cond)]).attr("stroke-width",lineW[r]);
  });
  g.append("line").attr("x1",x(stimTime)).attr("x2",x(stimTime)).attr("y1",y0+H).attr("y2",y0)
   .attr("stroke","#333").attr("stroke-width",3.3).attr("stroke-dasharray","12.2,5.3");
  const ax=svg.append("g").attr("transform",`translate(0,${y0+H})`)
    .call(d3.axisBottom(x).tickValues(xTicks).tickSize(7.4).tickPadding(8.5).tickSizeOuter(0));
  const ay=svg.append("g").attr("transform",`translate(${x0},0)`)
    .call(d3.axisLeft(y).tickValues(yTickSets[r]).tickSize(7.4).tickPadding(11).tickSizeOuter(0)
      .tickFormat(c===0?d3.format("d"):()=>""));
  [ax,ay].forEach(a=>{a.select(".domain").remove();
    a.selectAll("line").attr("stroke","#000").attr("stroke-width",1.6);
    a.selectAll("text").attr("font-size",FS).attr("fill","#000").attr("font-family","DejaVu Sans");});
  svg.append("rect").attr("x",x0).attr("y",y0).attr("width",W).attr("height",H)
    .attr("fill","none").attr("stroke","#000").attr("stroke-width",1.6);
  if(r===0) svg.append("text").attr("x",x0+W/2).attr("y",36).attr("text-anchor","middle")
    .attr("font-size",37.4).attr("fill","#000").text(neurons[c]);
  if(c===0) svg.append("text").attr("transform",`translate(32,${y0+H/2}) rotate(-90)`)
    .attr("text-anchor","middle").attr("font-size",FS).attr("fill","#000").text(rowLabels[r]);
  if(r===2) svg.append("text").attr("x",x0+W/2).attr("y",y0+H+81).attr("text-anchor","middle")
    .attr("font-size",FS).attr("fill","#000").text(xLabel);
}));
</script></body></html>
